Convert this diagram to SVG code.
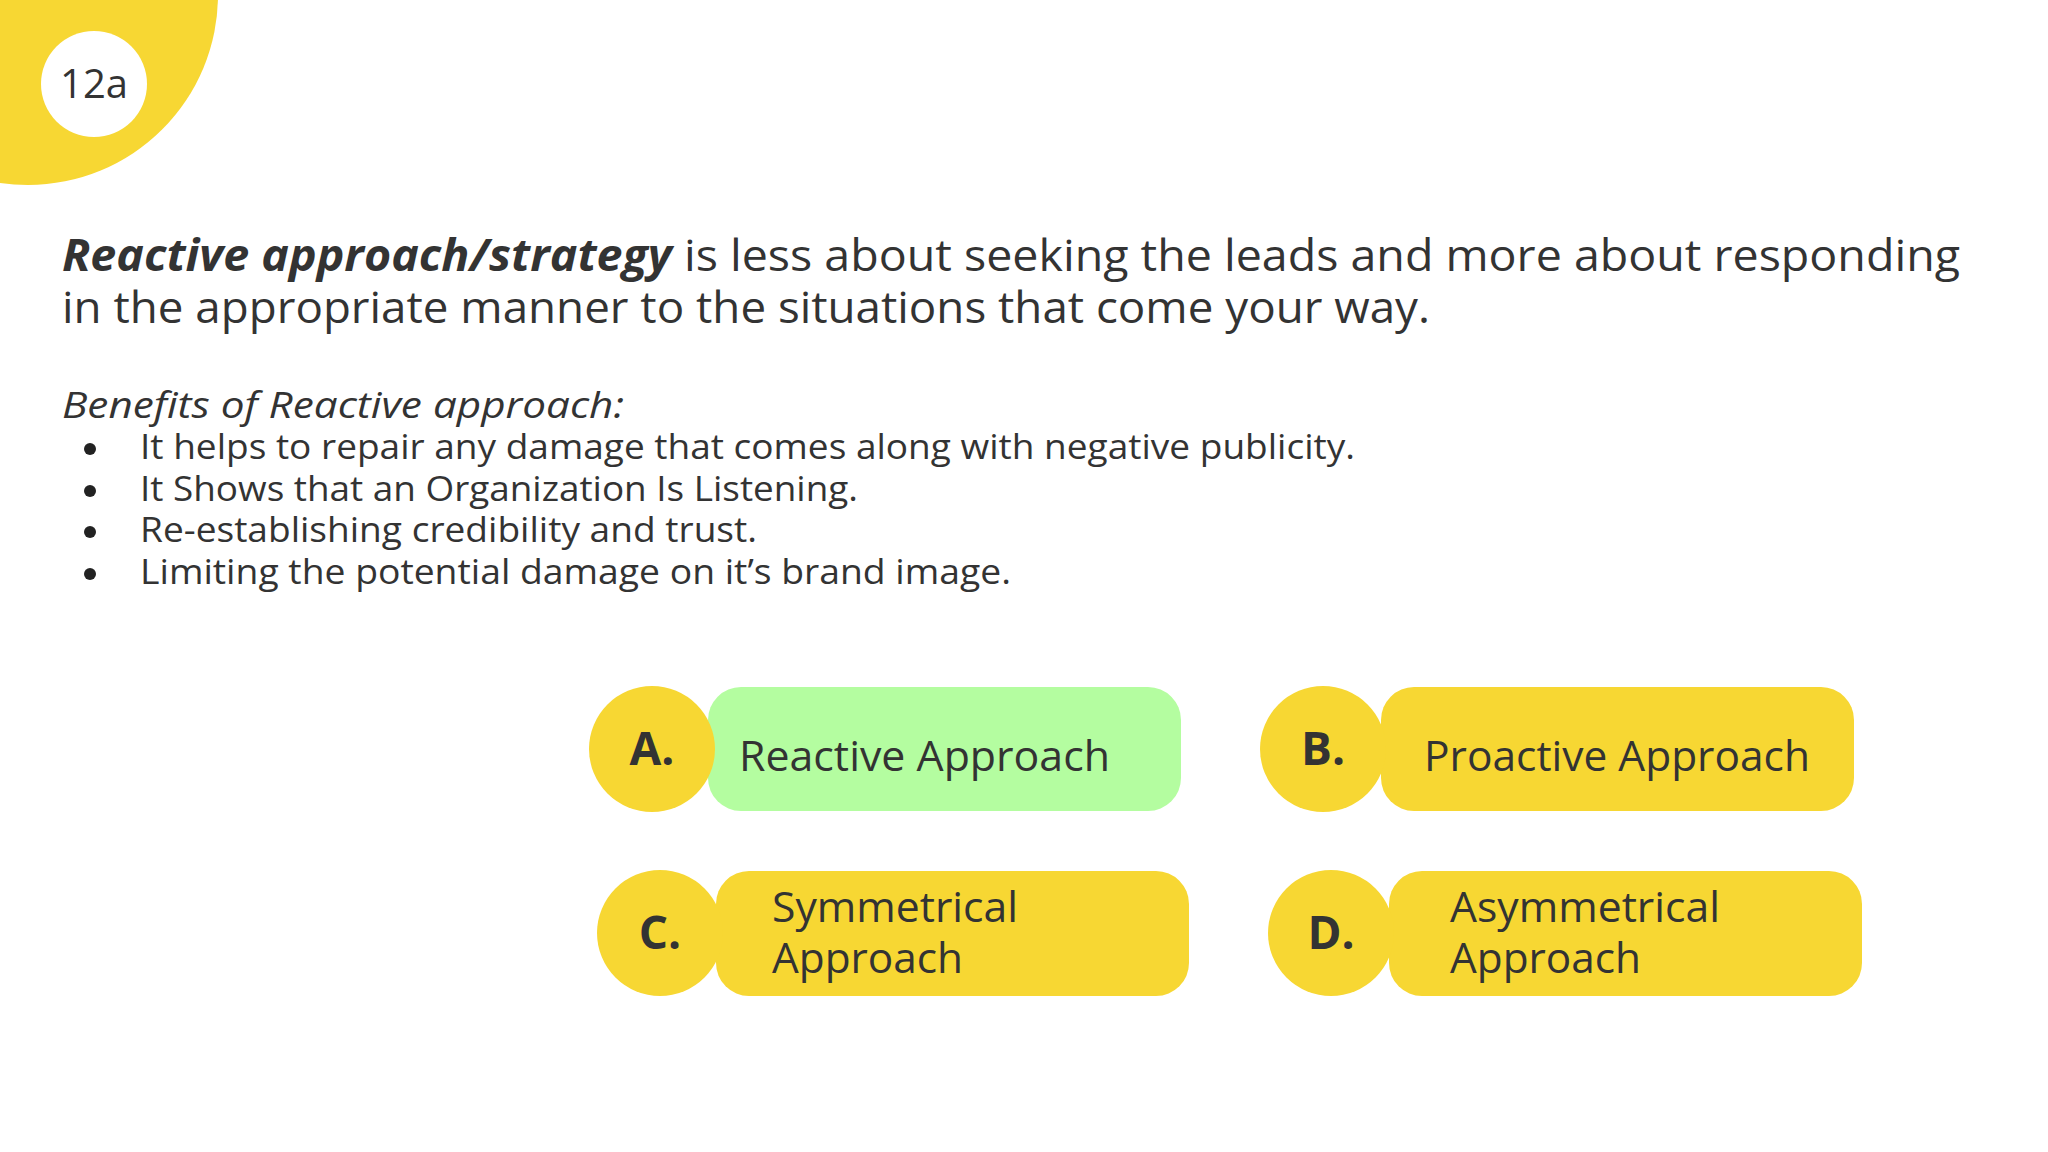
<svg xmlns="http://www.w3.org/2000/svg" width="2048" height="1152" viewBox="0 0 2048 1152">
<style>
text{font-family:"Open Sans","Noto Sans",sans-serif;fill:#333}
.y{fill:#F7D733}
.lt{font-size:46px;font-weight:bold;text-anchor:middle}
.bt{font-size:42px}
.b{font-size:34px}
</style>
<rect width="2048" height="1152" fill="#fff"/>
<g id="corner"><circle class="y" cx="28" cy="-5" r="190"/><circle cx="94" cy="84" r="53" fill="#fff"/><text x="94" y="98" font-size="40" text-anchor="middle">12a</text></g>
<g id="heading">
<text x="62" y="271" font-size="44" textLength="1898" lengthAdjust="spacingAndGlyphs"><tspan font-weight="bold" font-style="italic">Reactive approach/strategy</tspan> is less about seeking the leads and more about responding</text>
<text x="62" y="323" font-size="44" textLength="1368" lengthAdjust="spacingAndGlyphs">in the appropriate manner to the situations that come your way.</text>
</g>
<g id="benefits">
<text x="62" y="418" font-size="36" font-style="italic" textLength="562" lengthAdjust="spacingAndGlyphs">Benefits of Reactive approach:</text>
<circle cx="90" cy="449" r="6" fill="#222"/><text class="b" x="140" y="459" textLength="1215" lengthAdjust="spacingAndGlyphs">It helps to repair any damage that comes along with negative publicity.</text>
<circle cx="90" cy="491" r="6" fill="#222"/><text class="b" x="140" y="501" textLength="718" lengthAdjust="spacingAndGlyphs">It Shows that an Organization Is Listening.</text>
<circle cx="90" cy="532" r="6" fill="#222"/><text class="b" x="140" y="542" textLength="617" lengthAdjust="spacingAndGlyphs">Re-establishing credibility and trust.</text>
<circle cx="90" cy="574" r="6" fill="#222"/><text class="b" x="140" y="584" textLength="871" lengthAdjust="spacingAndGlyphs">Limiting the potential damage on it’s brand image.</text>
</g>
<g id="optA"><rect x="708" y="687" width="473" height="124" rx="33" fill="#B4FDA0"/><circle class="y" cx="652" cy="749" r="63"/><text class="lt" x="652" y="765">A.</text><text class="bt" x="739" y="771" textLength="371" lengthAdjust="spacingAndGlyphs">Reactive Approach</text></g>
<g id="optB"><rect class="y" x="1381" y="687" width="473" height="124" rx="33"/><circle class="y" cx="1323" cy="749" r="63"/><text class="lt" x="1323" y="765">B.</text><text class="bt" x="1424" y="771" textLength="386" lengthAdjust="spacingAndGlyphs">Proactive Approach</text></g>
<g id="optC"><rect class="y" x="716" y="871" width="473" height="125" rx="33"/><circle class="y" cx="660" cy="933" r="63"/><text class="lt" x="660" y="949">C.</text><text class="bt" x="772" y="922" textLength="246" lengthAdjust="spacingAndGlyphs">Symmetrical</text><text class="bt" x="772" y="973" textLength="191" lengthAdjust="spacingAndGlyphs">Approach</text></g>
<g id="optD"><rect class="y" x="1389" y="871" width="473" height="125" rx="33"/><circle class="y" cx="1331" cy="933" r="63"/><text class="lt" x="1331" y="949">D.</text><text class="bt" x="1450" y="922" textLength="270" lengthAdjust="spacingAndGlyphs">Asymmetrical</text><text class="bt" x="1450" y="973" textLength="191" lengthAdjust="spacingAndGlyphs">Approach</text></g>
<g id="connectors"/>
</svg>
